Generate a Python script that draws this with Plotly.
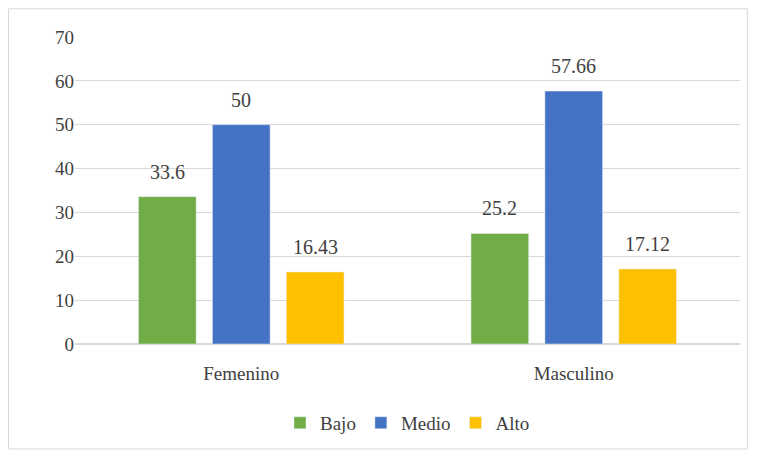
import plotly.graph_objects as go

categories = ["Femenino", "Masculino"]
bajo = [33.6, 25.2]
medio = [50, 57.66]
alto = [16.43, 17.12]

series = [("Bajo", bajo, "#70AD47"), ("Medio", medio, "#4472C4"), ("Alto", alto, "#FFC000")]

fig = go.Figure()
for name, vals, color in series:
    fig.add_trace(go.Bar(name=name, x=categories, y=vals, marker_color=color))

# data labels, placed above bars with extra gap like Excel
annotations = []
offsets = [-0.222, 0, 0.222]
for (name, vals, color), off in zip(series, offsets):
    for i, v in enumerate(vals):
        annotations.append(dict(x=i + off, y=v, text=str(v), showarrow=False,
                                yanchor="bottom", yshift=12,
                                font=dict(size=20, color="#404040")))

# page body has an 8px margin, so the figure is shrunk to fit the window
fig.update_layout(
    width=741, height=442, barmode="group", bargap=0.333, bargroupgap=0.22,
    margin=dict(l=67, r=9, t=29, b=106, autoexpand=False),
    paper_bgcolor="white", plot_bgcolor="white",
    font=dict(family="Liberation Serif", size=19, color="#404040"),
    legend=dict(orientation="h", x=0.5, xanchor="center", y=-0.257, yanchor="middle",
                font=dict(size=19), itemwidth=30),
    yaxis=dict(range=[0, 70], dtick=10, gridcolor="#D9D9D9", showline=False,
               zeroline=True, zerolinecolor="#D9D9D9", ticklen=0),
    xaxis=dict(showline=True, linecolor="#D9D9D9", range=[-0.5, 1.5],
               ticks="outside", ticklen=12, tickcolor="rgba(0,0,0,0)"),
    annotations=annotations,
    shapes=[dict(type="rect", xref="paper", yref="paper", x0=-0.1, x1=1.011,
                 y0=-0.342, y1=1.092, line=dict(color="#D9D9D9", width=1))],
)
fig.write_html("out.html")
